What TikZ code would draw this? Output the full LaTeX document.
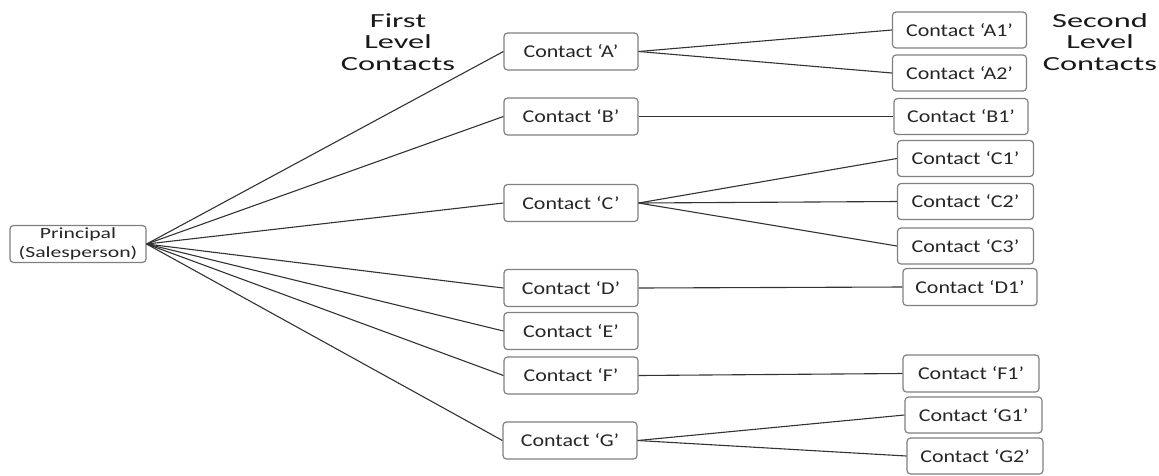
\documentclass[tikz,border=0pt]{standalone}
\usepackage{fontspec}
\newfontfamily\nodefont[FakeStretch=1.22]{Carlito}
\newfontfamily\prinfont[FakeStretch=1.4]{Carlito}
\newfontfamily\headfont[FakeStretch=1.62]{Carlito}
\begin{document}
\begin{tikzpicture}[x=1pt,y=-1pt,
  box/.style={draw=black!50, line width=1.2pt, rounded corners=3.5pt, fill=white,
    inner sep=0pt, minimum width=134pt, minimum height=37pt,
    font=\nodefont\fontsize{18}{20}\selectfont, text=black!85},
  prin/.style={box, minimum width=136pt, align=center,
    font=\prinfont\fontsize{15.5}{19}\selectfont},
  head/.style={align=center, inner sep=0pt, text=black!90,
    font=\headfont\fontsize{20}{21.5}\selectfont},
  conn/.style={draw=black!80, line width=1.1pt}
]
\useasboundingbox (0,0) rectangle (1159,475);
\fill[white] (0,0) rectangle (1159,475);

\node[head] (H1) at (398,42) {First\\Level\\Contacts};
\node[head] (H2) at (1100,42) {Second\\Level\\Contacts};

\node[prin] (P) at (78,244) {Principal\\(Salesperson)};

\node[box] (A) at (571,51.5) {Contact ‘A’};
\node[box] (B) at (571,116.5) {Contact ‘B’};
\node[box] (C) at (571,203) {Contact ‘C’};
\node[box] (D) at (571,288) {Contact ‘D’};
\node[box] (E) at (571,331) {Contact ‘E’};
\node[box] (F) at (571,375.5) {Contact ‘F’};
\node[box] (G) at (570,440.5) {Contact ‘G’};

\node[box, minimum height=36pt] (A1) at (959.5,30) {Contact ‘A1’};
\node[box, minimum height=36pt] (A2) at (959.5,73) {Contact ‘A2’};
\node[box, minimum height=36pt] (B1) at (961,116.5) {Contact ‘B1’};
\node[box, minimum height=36pt, minimum width=136pt] (C1) at (965.5,158.5) {Contact ‘C1’};
\node[box, minimum height=36pt, minimum width=136pt] (C2) at (965.5,201.5) {Contact ‘C2’};
\node[box, minimum height=36pt, minimum width=136pt] (C3) at (965.5,246) {Contact ‘C3’};
\node[box, minimum height=37pt] (D1) at (970,287) {Contact ‘D1’};
\node[box, minimum height=37pt, minimum width=136pt] (F1) at (971,373.5) {Contact ‘F1’};
\node[box, minimum height=36pt, minimum width=137pt] (G1) at (973.5,415) {Contact ‘G1’};
\node[box, minimum height=36pt, minimum width=136pt] (G2) at (975,456) {Contact ‘G2’};

\foreach \n in {A,B,C,D,E,F,G}
  \draw[conn] (P.east) -- (\n.west);
\draw[conn] (A.east) -- (A1.west);
\draw[conn] (A.east) -- (A2.west);
\draw[conn] (B.east) -- (B1.west);
\draw[conn] (C.east) -- (C1.west);
\draw[conn] (C.east) -- (C2.west);
\draw[conn] (C.east) -- (C3.west);
\draw[conn] (D.east) -- (D1.west);
\draw[conn] (F.east) -- (F1.west);
\draw[conn] (G.east) -- (G1.west);
\draw[conn] (G.east) -- (G2.west);
\end{tikzpicture}
\end{document}
